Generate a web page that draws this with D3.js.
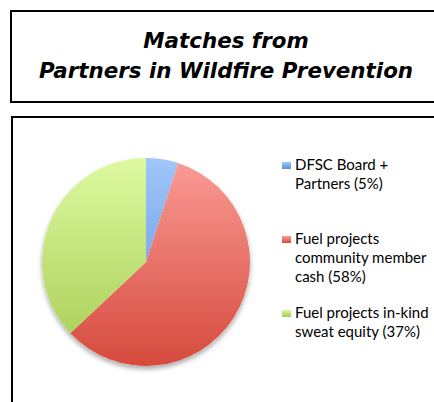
<!DOCTYPE html>
<html><head><meta charset="utf-8">
<script src="https://cdn.jsdelivr.net/npm/d3@7"></script>
<style>html,body{margin:0;padding:0;background:#fff;}svg{display:block;}</style>
</head><body>
<script>
const titleLines = ["Matches from", "Partners in Wildfire Prevention"];
const categories = ["DFSC Board + Partners", "Fuel projects community member cash", "Fuel projects in-kind sweat equity"];
const values = [5, 58, 37];
const legendLines = [["DFSC Board +", "Partners (5%)"], ["Fuel projects", "community member", "cash (58%)"], ["Fuel projects in-kind", "sweat equity (37%)"]];
const colorsTop = ["#a0c6fb", "#fa9c96", "#ddf9a0"];
const colorsBottom = ["#5a8ed6", "#d64a3d", "#a5cb52"];

const W = 434, H = 402;
const svg = d3.select("body").append("svg").attr("width", W).attr("height", H);

// title box
svg.append("rect").attr("x", 11).attr("y", 11).attr("width", 440).attr("height", 91)
  .attr("fill", "#fff").attr("stroke", "#000").attr("stroke-width", 2);
svg.selectAll("text.title").data(titleLines).enter().append("text")
  .attr("class", "title")
  .attr("x", 226).attr("y", (d, i) => 48 + i * 30)
  .attr("text-anchor", "middle")
  .attr("font-family", "DejaVu Sans, Verdana, sans-serif")
  .attr("font-weight", "bold").attr("font-style", "italic")
  .attr("font-size", 21.4).attr("fill", "#000")
  .text(d => d);

// chart box
svg.append("rect").attr("x", 12).attr("y", 117).attr("width", 440).attr("height", 300)
  .attr("fill", "#fff").attr("stroke", "#000").attr("stroke-width", 2);

const cx = 146, cy = 262, r = 104;
const defs = svg.append("defs");
colorsTop.forEach((c, i) => {
  const g = defs.append("linearGradient").attr("id", "g" + i)
    .attr("gradientUnits", "userSpaceOnUse")
    .attr("x1", 0).attr("y1", -r).attr("x2", 0).attr("y2", r);
  g.append("stop").attr("offset", "0%").attr("stop-color", c);
  g.append("stop").attr("offset", "100%").attr("stop-color", colorsBottom[i]);
  const gl = defs.append("linearGradient").attr("id", "l" + i)
    .attr("x1", 0).attr("y1", 0).attr("x2", 0).attr("y2", 1);
  gl.append("stop").attr("offset", "0%").attr("stop-color", c);
  gl.append("stop").attr("offset", "100%").attr("stop-color", colorsBottom[i]);
});
const f = defs.append("filter").attr("id", "sh").attr("x", "-20%").attr("y", "-20%").attr("width", "140%").attr("height", "140%");
f.append("feGaussianBlur").attr("in", "SourceAlpha").attr("stdDeviation", 2.5);
f.append("feOffset").attr("dx", 0).attr("dy", 3).attr("result", "ob");
f.append("feComponentTransfer").append("feFuncA").attr("type", "linear").attr("slope", 0.35);
const fm = f.append("feMerge");
fm.append("feMergeNode");
fm.append("feMergeNode").attr("in", "SourceGraphic");

const pie = d3.pie().sort(null).value(d => d);
const arc = d3.arc().innerRadius(0).outerRadius(r);
const gp = svg.append("g").attr("transform", `translate(${cx},${cy})`);
gp.append("circle").attr("r", r).attr("fill", "#fff").attr("filter", "url(#sh)");
gp.selectAll("path").data(pie(values)).enter().append("path")
  .attr("d", arc)
  .attr("fill", (d, i) => `url(#g${i})`);

// legend
const legY = [165, 239, 313];
const lg = svg.append("g");
legendLines.forEach((lines, i) => {
  lg.append("rect").attr("x", 282).attr("y", legY[i] - 3).attr("width", 9).attr("height", 7)
    .attr("fill", `url(#l${i})`);
  lines.forEach((t, j) => {
    lg.append("text").attr("x", 295).attr("y", legY[i] + 5 + j * 19)
      .attr("font-family", "Lato, Open Sans, sans-serif")
      .attr("font-size", 15).attr("fill", "#000").text(t);
  });
});
</script>
</body></html>
